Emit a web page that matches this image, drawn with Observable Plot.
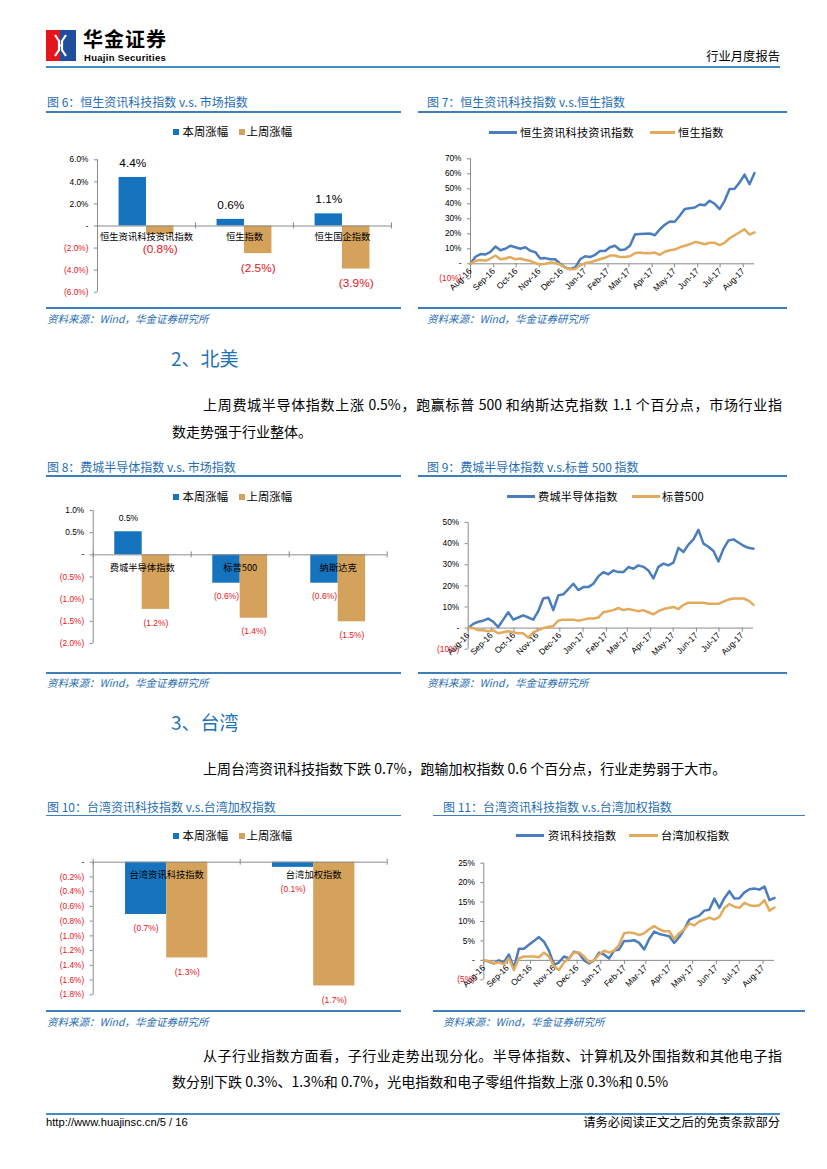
<!DOCTYPE html>
<html><head><meta charset="utf-8">
<script src="https://cdn.jsdelivr.net/npm/d3@7"></script>
<script src="https://cdn.jsdelivr.net/npm/@observablehq/plot@0.6"></script>
<style>
html,body{margin:0;padding:0;background:#fff;}
#page{position:relative;width:827px;height:1169px;overflow:hidden;background:#fff;}
</style></head>
<body><div id="page">
<svg style="position:absolute;left:46px;top:30px" width="30" height="31">
<rect x="0" y="0" width="14" height="31" fill="#e3161b"/>
<rect x="14" y="0" width="16" height="31" fill="#1e4e9c"/>
<path d="M9 5 L13 11 L13 20 L9 26" stroke="#fff" stroke-width="2.2" fill="none"/>
<path d="M20 5 L16 11 L16 20 L20 26" stroke="#fff" stroke-width="2.2" fill="none"/>
<path d="M13 15.5 L16 15.5" stroke="#fff" stroke-width="2"/>
</svg>
</div>
<script>
// ---------------- DATA ----------------
const barSeries = ["本周涨幅", "上周涨幅"];

const fig6Cats = ["恒生资讯科技资讯指数", "恒生指数", "恒生国企指数"];
const fig6ThisWeek = [4.4, 0.6, 1.1];
const fig6LastWeek = [-0.8, -2.5, -3.9];
const fig6YTicks = [6, 4, 2, 0, -2, -4, -6];

const fig8Cats = ["费城半导体指数", "标普500", "纳斯达克"];
const fig8ThisWeek = [0.52, -0.64, -0.64];
const fig8LastWeek = [-1.23, -1.43, -1.51];
const fig8YTicks = [1, 0.5, 0, -0.5, -1, -1.5, -2];

const fig10Cats = ["台湾资讯科技指数", "台湾加权指数"];
const fig10ThisWeek = [-0.71, -0.07];
const fig10LastWeek = [-1.3, -1.68];
const fig10YTicks = [0, -0.2, -0.4, -0.6, -0.8, -1.0, -1.2, -1.4, -1.6, -1.8];

const lineStart = "2016-08-22";
const lineEnd = "2017-09-06";
const monthLabels = ["Aug-16","Sep-16","Oct-16","Nov-16","Dec-16","Jan-17","Feb-17","Mar-17","Apr-17","May-17","Jun-17","Jul-17","Aug-17"];

const fig7Names = ["恒生资讯科技资讯指数", "恒生指数"];
const fig7Blue = [0, 4.7, 6.5, 6.2, 8, 11.5, 9, 10, 12, 11, 10, 11, 8.7, 7.8, 3.5, 3.8, 3, 3, 0, -2.5, -3.5, -2.5, 3, 5, 4.5, 6, 8.5, 8.5, 11, 12, 9.2, 9.5, 12, 19.5, 19.8, 20, 20.2, 19, 23, 26, 28.2, 28, 32, 36.5, 37, 37.5, 39.5, 39, 42, 40, 36.5, 42, 49.8, 50, 54.2, 59.5, 53, 60.5];
const fig7Tan = [0, 2, 2.5, 2, 3.5, 5.5, 3, 3.5, 4.5, 3, 3.5, 2.5, 2, 0.5, -0.5, 0, 0.8, 0.5, -0.5, -2.5, -3.7, -3.5, -1, 0.5, 1, 2, 3, 4, 5.5, 5.5, 4.5, 4.5, 5, 7, 7.5, 7, 7, 7.5, 6, 8, 9, 9.5, 11, 12, 13, 14.5, 14, 13, 14, 14, 12.5, 14, 17, 19, 21, 23, 19.5, 21];
const fig7YTicks = [70, 60, 50, 40, 30, 20, 10, 0, -10];

const fig9Names = ["费城半导体指数", "标普500"];
const fig9Blue = [0, 2, 3, 3.5, 4.5, 3, 0.5, 4, 7.5, 4, 5, 6, 5, 4, 8, 14, 14.5, 8.5, 15.5, 16, 18.5, 21, 18, 19.4, 19.4, 21, 24.5, 26.5, 25.5, 27.3, 26.5, 26.5, 28.9, 28.1, 29.7, 29, 27.3, 23.5, 29, 30.5, 29.7, 31, 38, 36, 39.5, 42, 46.5, 40, 38.5, 36.5, 31.5, 37.5, 41.5, 42, 40.5, 39, 38, 37.6];
const fig9Tan = [0, 0, -1, -1, -1.5, -1, -2.5, -2, -1.5, -2, -2.5, -2.5, -4.5, -2, -1, 0, 0.5, 1, 3.5, 4, 4, 4, 3.5, 4, 4.5, 4.5, 5, 7.5, 8, 8.5, 9.5, 8.5, 9, 8.5, 8, 8.5, 7.5, 6.5, 8, 9, 9.5, 10, 9, 11, 12, 12, 12, 12, 11.5, 11.5, 11.5, 12.5, 13.5, 14, 14, 14, 13, 11];
const fig9YTicks = [50, 40, 30, 20, 10, 0, -10];

const fig11Names = ["资讯科技指数", "台湾加权指数"];
const fig11Blue = [0, -0.3, -0.8, 0, -0.5, 1.5, -2, 3, 3, 4, 5, 6, 4.8, 2.5, -1.2, -0.5, 1, 0.5, 2.2, 1.8, 0, -0.8, 0, 2, 1.5, 0.5, 2.5, 2.8, 5, 5, 5.2, 4.5, 2.8, 5.5, 7.4, 6.8, 6.5, 6.2, 4.5, 6, 8, 10.5, 11, 11.5, 12.8, 13, 15.9, 13.5, 16, 17.8, 15.9, 16, 17.5, 18.3, 18.5, 18.2, 19, 15.5, 16.1];
const fig11Tan = [0, -0.2, -0.8, -0.5, -1, 0.5, -2.5, 0.5, 1, 1, 1, 0.8, 2, 1, -1.5, -2.5, -0.5, 0.5, 2, 2, 1, -0.5, 0, 1.5, 2.5, 2, 2.5, 4, 7, 7.2, 7, 6.5, 7, 8, 8.8, 8, 7.5, 7.5, 5.5, 7, 8, 9.5, 9, 10, 10.5, 11, 10.5, 11.2, 13.5, 14.5, 13.8, 13.5, 14.8, 14.2, 14, 14.2, 15.5, 12.8, 13.6];
const fig11YTicks = [25, 20, 15, 10, 5, 0, -5];

// ---------------- STYLE ----------------
const BAR_BLUE = "#1674bf", BAR_TAN = "#d4a25b";
const LINE_BLUE = "#4a7dbd", LINE_TAN = "#e3aa5c";
const RED = "#e8131b", AXIS = "#8a8a8a", TITLE = "#1f6db4", RULE = "#3d7ebb";
const FONT_CJK = '"Noto Sans CJK SC", "Noto Sans", sans-serif';
const FONT_LAT = '"Liberation Sans", "Noto Sans CJK SC", sans-serif';
const page = document.getElementById("page");

function addText(txt, x, yc, o = {}) {
  const size = o.size || 12;
  const el = document.createElement("div");
  el.textContent = txt;
  const s = el.style;
  s.position = "absolute"; s.whiteSpace = "nowrap";
  s.fontSize = size + "px"; s.lineHeight = (size * 1.4) + "px";
  s.top = (yc - size * 0.7) + "px";
  s.fontFamily = o.family || FONT_CJK;
  s.color = o.color || "#000";
  if (o.weight) s.fontWeight = o.weight;
  if (o.italic) s.fontStyle = "italic";
  if (o.ls) s.letterSpacing = o.ls + "px";
  if (o.align === "right") s.right = (827 - x) + "px"; else s.left = x + "px";
  if (o.width) { s.width = o.width + "px"; s.textAlign = "justify"; s.textAlignLast = "justify"; }
  page.appendChild(el);
  return el;
}
function addRule(x1, x2, y, color, w = 1) {
  const el = document.createElement("div");
  Object.assign(el.style, {position: "absolute", left: x1 + "px", width: (x2 - x1) + "px", top: (y - w / 2) + "px", height: w + "px", background: color});
  page.appendChild(el);
}
function addBox(x, yc, w, h, color) {
  const el = document.createElement("div");
  Object.assign(el.style, {position: "absolute", left: x + "px", top: (yc - h / 2) + "px", width: w + "px", height: h + "px", background: color});
  page.appendChild(el);
}
function place(svg, box) {
  svg.style.position = "absolute";
  svg.style.left = box[0] + "px";
  svg.style.top = box[1] + "px";
  page.appendChild(svg);
}
function margins(box, frame) {
  const [L, T, W, H] = box, [x0, x1, y0, y1] = frame;
  return {width: W, height: H, marginLeft: x0 - L, marginRight: L + W - x1, marginTop: y0 - T, marginBottom: T + H - y1};
}
const pctFmt1 = d => d === 0 ? "-" : d < 0 ? `(${(-d).toFixed(1)}%)` : `${d.toFixed(1)}%`;
const pctFmt0 = d => d === 0 ? "-" : d < 0 ? `(${-d}%)` : `${d}%`;
const tickFill = d => d < 0 ? RED : "#000";

// ---------------- BAR CHART ----------------
function barChart(cfg) {
  const {cats, a, b, yDomain, yTicks, box, frame, valueSize, valueDy, catDy, minNeg} = cfg;
  const [x0, x1, y0, y1] = frame;
  const bw = (x1 - x0) / cats.length, barW = bw * 0.28;
  const ppu = (y1 - y0) / (yDomain[1] - yDomain[0]);
  const rowsA = cats.map((c, i) => ({cat: c, value: a[i]}));
  const rowsB = cats.map((c, i) => ({cat: c, value: b[i]}));
  const lab = v => v < 0 ? `(${(-v).toFixed(1)}%)` : `${v.toFixed(1)}%`;
  const negY = d => minNeg ? Math.min(d.value, -(minNeg - valueDy) / ppu) : d.value;
  const marks = [
    Plot.barY(rowsA, {x: "cat", y: "value", fill: BAR_BLUE, insetLeft: bw / 2 - barW, insetRight: bw / 2}),
    Plot.barY(rowsB, {x: "cat", y: "value", fill: BAR_TAN, insetLeft: bw / 2, insetRight: bw / 2 - barW}),
    Plot.ruleY([0], {stroke: AXIS}),
    Plot.ruleX([cats[0]], {x: d => d, dx: -bw / 2, stroke: AXIS}),
    Plot.ruleX(cats, {x: d => d, dx: -bw / 2, y1: () => 3 / ppu, y2: () => -3 / ppu, stroke: AXIS}),
    Plot.ruleX([cats[cats.length - 1]], {x: d => d, dx: bw / 2, y1: () => 3 / ppu, y2: () => -3 / ppu, stroke: AXIS}),
    Plot.axisY(yTicks, {tickFormat: pctFmt1, tickSize: 3, tickPadding: 6, fontSize: 8.3, fill: tickFill, stroke: AXIS, label: null}),
    Plot.text(cats, {x: d => d, y: () => 0, dy: catDy, text: d => d, fontSize: 9.3, fill: "#000", fontFamily: FONT_CJK})
  ];
  for (const [rows, off] of [[rowsA, -barW / 2], [rowsB, barW / 2]]) {
    marks.push(Plot.text(rows.filter(d => d.value >= 0), {x: "cat", y: "value", text: d => lab(d.value), dx: off, dy: -valueDy, fill: "#000", fontSize: valueSize}));
    marks.push(Plot.text(rows.filter(d => d.value < 0), {x: "cat", y: negY, text: d => lab(d.value), dx: off, dy: valueDy, fill: RED, fontSize: valueSize}));
  }
  const svg = Plot.plot({
    ...margins(box, frame),
    style: {fontFamily: FONT_LAT, fontSize: "9px", color: "#000", background: "none", overflow: "visible"},
    x: {type: "band", domain: cats, padding: 0, round: false, axis: null},
    y: {domain: yDomain, label: null},
    marks
  });
  place(svg, box);
}

// ---------------- LINE CHART ----------------
function lineChart(cfg) {
  const {blue, tan, yDomain, yTicks, box, frame} = cfg;
  const [x0, x1, y0, y1] = frame;
  const ppu = (y1 - y0) / (yDomain[1] - yDomain[0]);
  const t0 = new Date(lineStart), t1 = new Date(lineEnd);
  const toRows = vals => vals.map((v, i) => ({date: new Date(+t0 + (t1 - t0) * i / (vals.length - 1)), value: v}));
  const parse = d3.utcParse("%b-%y");
  const months = monthLabels.map(m => d3.utcDay.offset(parse(m), t0.getUTCDate() - 1));
  const svg = Plot.plot({
    ...margins(box, frame),
    style: {fontFamily: FONT_LAT, fontSize: "8px", color: "#000", background: "none", overflow: "visible"},
    x: {type: "utc", domain: [t0, t1], axis: null},
    y: {domain: yDomain, label: null},
    marks: [
      Plot.ruleY([0], {stroke: AXIS}),
      Plot.ruleX([t0], {stroke: AXIS}),
      Plot.ruleX(months, {x: d => d, y1: () => 0, y2: () => -4 / ppu, stroke: AXIS}),
      Plot.axisY(yTicks, {tickFormat: pctFmt0, tickSize: 3, tickPadding: 6, fontSize: 8.3, fill: tickFill, stroke: AXIS, label: null}),
      Plot.text(months, {x: d => d, y: () => 0, text: (d, i) => monthLabels[i], rotate: -45, textAnchor: "end", dx: 0, dy: 6, fontSize: 8.5, fill: "#000"}),
      Plot.line(toRows(blue), {x: "date", y: "value", stroke: LINE_BLUE, strokeWidth: 2.5}),
      Plot.line(toRows(tan), {x: "date", y: "value", stroke: LINE_TAN, strokeWidth: 2.5})
    ]
  });
  place(svg, box);
}

// ---------------- HEADER / FOOTER ----------------
addText("华金证券", 83, 39, {size: 20, weight: "bold", ls: 1});
addText("Huajin Securities", 84, 57.5, {size: 9.5, weight: "bold", family: FONT_LAT, ls: 0.3});
addText("行业月度报告", 780, 57, {size: 12.3, align: "right"});
addRule(46, 780, 66.5, "#3f8dc4", 2);
addRule(46, 780, 1113.5, "#3f8dc4", 2);
addText("http://www.huajinsc.cn/5 / 16", 46, 1123, {size: 11.2, family: FONT_LAT});
addText("请务必阅读正文之后的免责条款部分", 780, 1123, {size: 12.3, align: "right"});

// ---------------- TITLES, LEGENDS, SOURCES ----------------
function figFrame(title, tx, ty, ruleX1, ruleX2, ruleY, srcY, srcRuleY) {
  addText(title, tx, ty, {size: 12, color: TITLE});
  addRule(ruleX1, ruleX2, ruleY, RULE, 1.2);
  addRule(ruleX1, ruleX2, srcRuleY, RULE, 1.2);
  addText("资料来源：Wind，华金证券研究所", tx, srcY, {size: 10.5, color: TITLE, italic: true});
}
function barLegend(yc) {
  addBox(173, yc, 6, 6, BAR_BLUE); addText(barSeries[0], 182.5, yc, {size: 11.4});
  addBox(239, yc, 6, 6, BAR_TAN); addText(barSeries[1], 246.5, yc, {size: 11.4});
}
function lineLegend(names, yc, b1, b2, bt, t1, t2, tt) {
  addRule(b1, b2, yc, LINE_BLUE, 2.5); addText(names[0], bt, yc, {size: 11.2, ls: 0.2});
  addRule(t1, t2, yc, LINE_TAN, 2.5); addText(names[1], tt, yc, {size: 11.2, ls: 0.2});
}

figFrame("图 6：恒生资讯科技指数 v.s. 市场指数", 47, 102.5, 46, 401, 112, 319, 308);
figFrame("图 7：恒生资讯科技指数 v.s.恒生指数", 427, 102.5, 418, 787, 112, 319, 308);
figFrame("图 8：费城半导体指数  v.s.  市场指数", 47, 467, 46, 401, 476, 683.5, 673);
figFrame("图 9：费城半导体指数 v.s.标普 500 指数", 427, 467.5, 418, 787, 476, 683.5, 673);
figFrame("图 10：台湾资讯科技指数 v.s.台湾加权指数", 47, 807, 46, 401, 815.5, 1022.5, 1011);
figFrame("图 11：台湾资讯科技指数 v.s.台湾加权指数", 443, 807, 433, 805, 815.5, 1022.5, 1011);

barLegend(132.3); barLegend(496.7); barLegend(835.7);
lineLegend(fig7Names, 132.7, 489, 517, 520, 650, 675, 678);
lineLegend(fig9Names, 496.7, 507, 535, 538, 632, 660, 662);
lineLegend(fig11Names, 835.7, 516, 544, 548, 629, 658, 661);

// ---------------- CHARTS ----------------
barChart({cats: fig6Cats, a: fig6ThisWeek, b: fig6LastWeek, yDomain: [-6, 6], yTicks: fig6YTicks,
  box: [40, 145, 370, 160], frame: [97, 391, 159.3, 291.7], valueSize: 11.8, valueDy: 14.5, catDy: 11});
barChart({cats: fig8Cats, a: fig8ThisWeek, b: fig8LastWeek, yDomain: [-2, 1], yTicks: fig8YTicks,
  box: [40, 500, 370, 160], frame: [92.7, 386.7, 510, 643], valueSize: 8.5, valueDy: 13.5, catDy: 13.4});
barChart({cats: fig10Cats, a: fig10ThisWeek, b: fig10LastWeek, yDomain: [-1.8, 0], yTicks: fig10YTicks,
  box: [40, 848, 370, 160], frame: [92.7, 386.7, 861.7, 994.3], valueSize: 8.5, valueDy: 14, catDy: 13.3, minNeg: 27});

lineChart({blue: fig7Blue, tan: fig7Tan, yDomain: [-10, 70], yTicks: fig7YTicks,
  box: [418, 145, 380, 165], frame: [470, 754, 158.3, 278.3]});
lineChart({blue: fig9Blue, tan: fig9Tan, yDomain: [-10, 50], yTicks: fig9YTicks,
  box: [418, 505, 380, 170], frame: [467.7, 753, 522, 648.7]});
lineChart({blue: fig11Blue, tan: fig11Tan, yDomain: [-5, 25], yTicks: fig11YTicks,
  box: [433, 845, 380, 165], frame: [483.3, 774, 862.7, 979.3]});

// ---------------- BODY TEXT ----------------
const SEC = "#1f72b8";
addText("2、北美", 171, 358, {size: 19, color: SEC});
addText("上周费城半导体指数上涨 0.5%，跑赢标普 500 和纳斯达克指数 1.1 个百分点，市场行业指", 203, 405, {size: 14, width: 579});
addText("数走势强于行业整体。", 172, 432, {size: 14});
addText("3、台湾", 171, 722, {size: 19, color: SEC});
addText("上周台湾资讯科技指数下跌 0.7%，跑输加权指数 0.6 个百分点，行业走势弱于大市。", 203, 769, {size: 14});
addText("从子行业指数方面看，子行业走势出现分化。半导体指数、计算机及外围指数和其他电子指", 203, 1056, {size: 14, width: 579});
addText("数分别下跌 0.3%、1.3%和 0.7%，光电指数和电子零组件指数上涨 0.3%和 0.5%", 172, 1082, {size: 14});
</script>
</body></html>
